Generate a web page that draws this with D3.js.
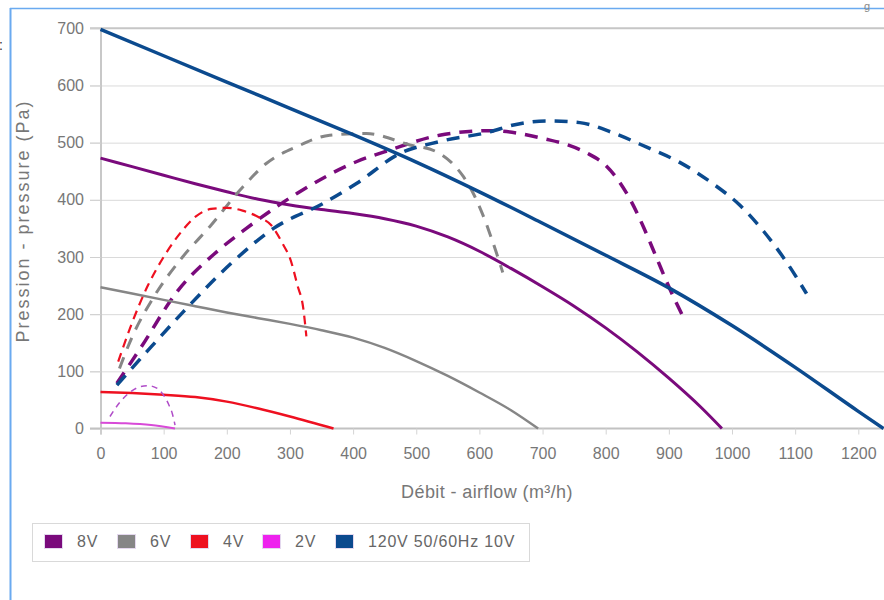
<!DOCTYPE html>
<html><head><meta charset="utf-8">
<script src="https://cdn.jsdelivr.net/npm/d3@7/dist/d3.min.js"></script>
<style>body{margin:0;background:#fff;overflow:hidden}svg{display:block;font-family:"Liberation Sans",Arial,sans-serif}</style>
</head><body><svg id="c" width="884" height="600"></svg>
<script>
// ---- data ----
const xTickValues = [0,100,200,300,400,500,600,700,800,900,1000,1100,1200];
const yTickValues = [0,100,200,300,400,500,600,700];
const legendLabels = ["8V","6V","4V","2V","120V 50/60Hz 10V"];
const seriesColors = ["#7a0a7c","#868686","#ee1020","#ee22ee","#0b4a8e"];

// fan curves (solid)
const fan8V = [[0,473],[50,458],[100,443],[150,428],[200,414],[250,401],[300,391],[350,383],[400,376],[450,367],[500,354],[550,335],[600,310],[650,280],[700,248],[750,214],[800,176],[850,134],[900,88],[950,38],[984,0]];
const fan6V = [[0,247],[50,236],[100,225],[150,214],[200,203],[250,193],[300,183],[350,172],[400,159],[450,141],[500,118],[550,92],[600,63],[650,32],[693,0]];
const fan4V = [[0,64],[50,62],[100,59],[150,55],[200,47],[250,35],[300,21],[369,0]];
const fan2V = [[0,10],[40,9],[80,6],[118,0]];
const fan10V = [[0,698],[100,652],[200,606],[300,560],[400,514],[500,466],[600,414],[700,359],[800,303],[900,246],[1000,180],[1100,107],[1200,30],[1240,0]];

// dashed curves
const dash8V = [[26,79],[63,140],[121,239],[184,309],[231,350],[311,411],[406,467],[458,487],[537,513],[617,521],[706,506],[740,496],[770,482],[800,460],[820,434],[840,398],[860,352],[880,300],[900,248],[926,188]];
const dash6V = [[30,105],[50,160],[86,233],[130,300],[173,353],[221,417],[263,464],[311,493],[363,513],[421,516],[490,496],[532,484],[555,466],[575,440],[590,412],[605,375],[620,330],[637,273]];
const dash4V = [[28,117],[50,185],[75,250],[100,300],[125,340],[150,370],[175,384],[200,386],[225,381],[250,370],[270,356],[290,320],[300,298],[312,250],[321,211],[326,161]];
const dash2V = [[15,21],[30,45],[45,62],[60,72],[75,75],[90,70],[100,58],[108,42],[114,25],[118,6]];
const dash10V = [[26,76],[73,134],[131,204],[210,292],[274,350],[353,394],[406,429],[474,481],[537,502],[617,519],[654,531],[706,538],[759,535],[812,517],[865,492],[918,465],[970,428],[1013,390],[1050,345],[1087,290],[1118,236]];

// ---- chart ----
const svg = d3.select("#c");
const x = d3.scaleLinear().domain([0,1200]).range([100.5,858.3]);
const y = d3.scaleLinear().domain([0,700]).range([428.5,28.3]);
const right = 884;
const FONT = "Liberation Sans, Arial, sans-serif";

// page frame
svg.append("line").attr("x1",10.5).attr("x2",10.5).attr("y1",8).attr("y2",600).attr("stroke","#6aaaf0").attr("stroke-width",2);
svg.append("line").attr("x1",10).attr("x2",right).attr("y1",8.5).attr("y2",8.5).attr("stroke","#6aaaf0").attr("stroke-width",1.5);
svg.append("text").attr("x",-1).attr("y",50).attr("font-size",14).attr("fill","#333").text(":");
svg.append("text").attr("x",864).attr("y",10).attr("font-size",11).attr("fill","#888").text("g");

// gridlines
const grid = svg.append("g").attr("transform","translate(90,0)")
  .call(d3.axisLeft(y).tickValues(yTickValues.filter(v=>v>0&&v<700)).tickSize(-(right-90)).tickFormat(""));
grid.select(".domain").remove();
grid.selectAll("line").attr("stroke","#dadada").attr("stroke-width",1);

// top border line
svg.append("line").attr("x1",90).attr("x2",right).attr("y1",y(700)).attr("y2",y(700)).attr("stroke","#c6c6c6").attr("stroke-width",2);

// y axis
const ya = svg.append("g").attr("transform","translate(101,0)")
  .call(d3.axisLeft(y).tickValues(yTickValues).tickFormat(d3.format("d")).tickSize(11).tickPadding(6));
ya.select(".domain").attr("stroke","#c8c8c8").attr("stroke-width",2).attr("d",`M0,${y(700)}V${y(0)+6}`);
ya.selectAll("line").attr("stroke","#d0d0d0");
ya.selectAll("text").attr("font-size",16).attr("fill","#777").attr("font-family",FONT);

// x axis
const xa = svg.append("g").attr("transform",`translate(0,${y(0)})`)
  .call(d3.axisBottom(x).tickValues(xTickValues).tickFormat(d3.format("d")).tickSize(6).tickPadding(13));
xa.select(".domain").attr("stroke","#c2c2c2").attr("stroke-width",2).attr("d",`M90,0H${right}`);
xa.selectAll("line").attr("stroke","#d4d4d4");
xa.selectAll("text").attr("font-size",16).attr("fill","#777").attr("font-family",FONT);

// axis titles
svg.append("text").attr("x",487).attr("y",498).attr("text-anchor","middle").attr("font-size",18).attr("letter-spacing",0.4).attr("fill","#777").text("Débit - airflow (m³/h)");
svg.append("text").attr("transform","translate(29,221) rotate(-90)").attr("text-anchor","middle").attr("font-size",18).attr("letter-spacing",2).attr("fill","#777").text("Pression - pressure (Pa)");

// curves
const line = d3.line().x(d=>x(d[0])).y(d=>y(d[1])).curve(d3.curveMonotoneX);
const plot = svg.append("g");
const series = [
  {fan:fan8V, sys:dash8V, w:3, dw:3.5, dash:"13,9"},
  {fan:fan6V, sys:dash6V, w:2.5, dw:3, dash:"12,9"},
  {fan:fan4V, sys:dash4V, w:2.5, dw:2.2, dash:"9,6"},
  {fan:fan2V, sys:dash2V, w:2, dw:1.5, dash:"6,5"},
  {fan:fan10V, sys:dash10V, w:3.5, dw:3.5, dash:"13,9"}
];
series.forEach((s,i)=>{
  plot.append("path").attr("d",line(s.sys)).attr("fill","none").attr("stroke",i===3?"#b04cc8":seriesColors[i]).attr("stroke-width",s.dw).attr("stroke-dasharray",s.dash);
  plot.append("path").attr("d",line(s.fan)).attr("fill","none").attr("stroke",i===3?"#d84ad8":seriesColors[i]).attr("stroke-width",s.w);
});

// legend
svg.append("rect").attr("x",32.5).attr("y",523.5).attr("width",497).attr("height",38).attr("fill","#fff").attr("stroke","#d9d9d9");
const swX = [44,117,190,262,335], txX = [77,150,223,295,368];
legendLabels.forEach((lab,i)=>{
  svg.append("rect").attr("x",swX[i]+0.5).attr("y",534.5).attr("width",18).attr("height",14).attr("fill",seriesColors[i]).attr("stroke","#e4d8ee");
  svg.append("text").attr("x",txX[i]).attr("y",547).attr("font-size",16).attr("letter-spacing",0.8).attr("fill","#666").text(lab);
});
</script></body></html>
